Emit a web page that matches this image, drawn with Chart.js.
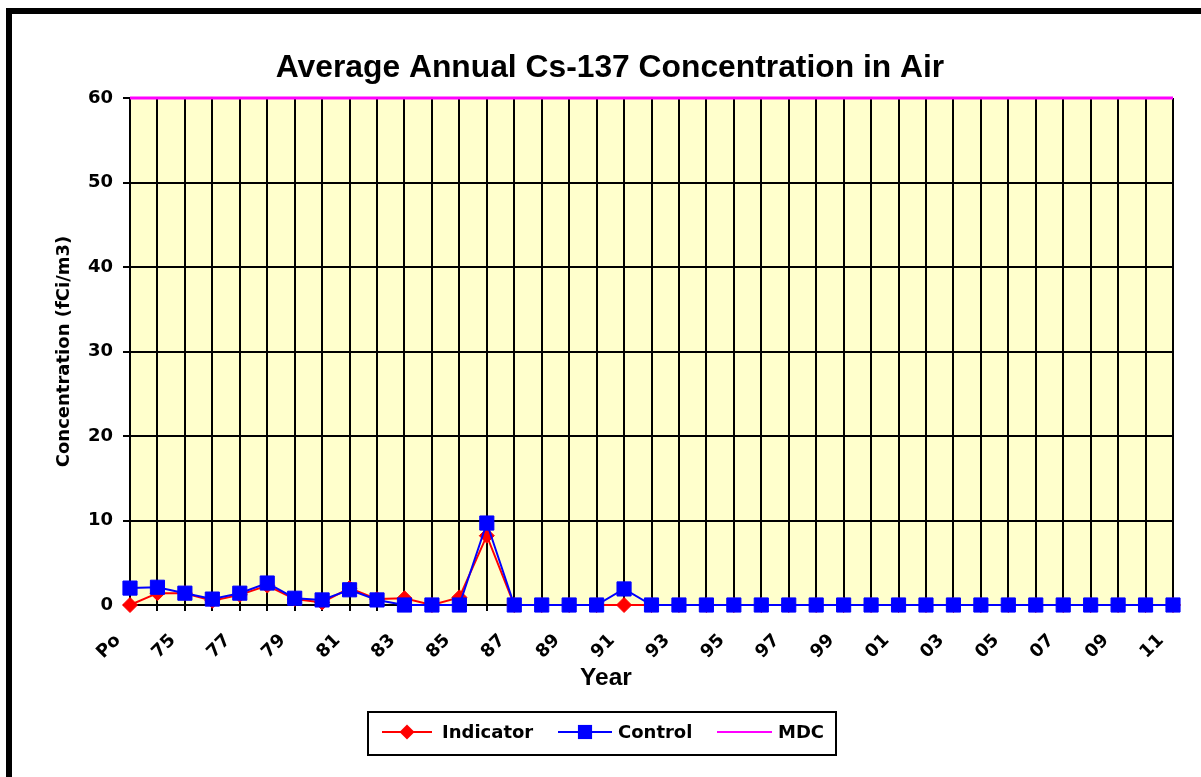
<!DOCTYPE html>
<html>
<head>
<meta charset="utf-8">
<script src="https://cdn.jsdelivr.net/npm/chart.js@4.4.1/dist/chart.umd.min.js"></script>
<style>
html,body{margin:0;padding:0;background:#ffffff;}
#wrap{width:1201px;height:777px;position:relative;overflow:hidden;}
canvas{display:block;}
</style>
</head>
<body>
<div id="wrap"><canvas id="c" width="1201" height="777"></canvas></div>
<script>
const chartTitle = 'Average Annual Cs-137 Concentration in Air';
const xAxisTitle = 'Year';
const yAxisTitle = 'Concentration (fCi/m3)';

const years = ['Po','74','75','76','77','78','79','80','81','82','83','84','85','86','87','88','89','90','91','92','93','94','95','96','97','98','99','00','01','02','03','04','05','06','07','08','09','10','11'];

const indicator = [0, 1.4, 1.4, 0.5, 1.2, 2.3, 0.7, 0.3, 2.0, 0.7, 0.8, 0, 0.9, 8.2, 0, 0, 0, 0, 0, 0, 0, 0, 0, 0, 0, 0, 0, 0, 0, 0, 0, 0, 0, 0, 0, 0, 0, 0, 0];

const control = [2.0, 2.1, 1.4, 0.7, 1.4, 2.6, 0.8, 0.6, 1.8, 0.6, 0, 0, 0, 9.7, 0, 0, 0, 0, 1.9, 0, 0, 0, 0, 0, 0, 0, 0, 0, 0, 0, 0, 0, 0, 0, 0, 0, 0, 0, 0];

const mdc = [60, 60, 60, 60, 60, 60, 60, 60, 60, 60, 60, 60, 60, 60, 60, 60, 60, 60, 60, 60, 60, 60, 60, 60, 60, 60, 60, 60, 60, 60, 60, 60, 60, 60, 60, 60, 60, 60, 60];

const yTicks = [0, 10, 20, 30, 40, 50, 60];

const TITLE_FONT = '"Liberation Sans", Arial, Helvetica, sans-serif';
const SMALL_FONT = '"DejaVu Sans", Verdana, sans-serif';

const bgPlugin = {
  id: 'plotBg',
  beforeDraw(chart) {
    const ctx = chart.ctx;
    const a = chart.chartArea;
    ctx.save();
    ctx.fillStyle = '#FFFFCC';
    ctx.fillRect(a.left, a.top, a.right - a.left, a.bottom - a.top);
    ctx.restore();
  }
};

const decorPlugin = {
  id: 'decor',
  afterDraw(chart) {
    const ctx = chart.ctx;
    const ds = chart.data.datasets;
    ctx.save();
    // outer frame (continues beyond the visible area)
    ctx.strokeStyle = '#000';
    ctx.lineWidth = 6;
    ctx.strokeRect(9, 11, 1400, 1000);

    // title
    ctx.fillStyle = '#000';
    ctx.font = 'bold 31.8px ' + TITLE_FONT;
    ctx.textAlign = 'center';
    ctx.textBaseline = 'alphabetic';
    ctx.fillText(chartTitle, 610, 77);

    // x axis title
    ctx.font = 'bold 24.5px ' + TITLE_FONT;
    ctx.fillText(xAxisTitle, 606, 685);

    // legend box
    ctx.lineWidth = 2;
    ctx.strokeStyle = '#000';
    ctx.strokeRect(368, 712, 468, 43);

    const ly = 732;
    const items = [
      {ds: ds[0], x0: 382, x1: 432, tx: 442},
      {ds: ds[1], x0: 558, x1: 612, tx: 618},
      {ds: ds[2], x0: 717, x1: 772, tx: 778}
    ];
    ctx.font = 'bold 18px ' + SMALL_FONT;
    ctx.textAlign = 'left';
    items.forEach(it => {
      const d = it.ds;
      ctx.strokeStyle = d.borderColor;
      ctx.lineWidth = 2;
      ctx.beginPath();
      ctx.moveTo(it.x0, ly);
      ctx.lineTo(it.x1, ly);
      ctx.stroke();
      const cx = (it.x0 + it.x1) / 2;
      ctx.fillStyle = d.pointBackgroundColor || d.borderColor;
      if (d.pointStyle === 'rectRot' && d.pointRadius > 0) {
        const r = d.pointRadius;
        ctx.beginPath();
        ctx.moveTo(cx - r, ly);
        ctx.lineTo(cx, ly - r);
        ctx.lineTo(cx + r, ly);
        ctx.lineTo(cx, ly + r);
        ctx.closePath();
        ctx.fill();
      } else if (d.pointStyle === 'rect' && d.pointRadius > 0) {
        const h = d.pointRadius * Math.SQRT1_2;
        ctx.fillRect(cx - h, ly - h, 2 * h, 2 * h);
      }
      ctx.fillStyle = '#000';
      ctx.fillText(d.label, it.tx, 738);
    });
    ctx.restore();
  }
};

new Chart(document.getElementById('c'), {
  type: 'line',
  data: {
    labels: years,
    datasets: [
      {
        label: 'Indicator',
        data: indicator,
        borderColor: '#FF0000',
        backgroundColor: '#FF0000',
        pointBackgroundColor: '#FF0000',
        pointBorderColor: '#FF0000',
        pointStyle: 'rectRot',
        pointRadius: 7.5,
        pointBorderWidth: 1,
        borderWidth: 2,
        tension: 0,
        clip: false,
        order: 1
      },
      {
        label: 'Control',
        data: control,
        borderColor: '#0000FF',
        backgroundColor: '#0000FF',
        pointBackgroundColor: '#0000FF',
        pointBorderColor: '#0000FF',
        pointStyle: 'rect',
        pointRadius: 10,
        pointBorderWidth: 1,
        borderWidth: 2,
        tension: 0,
        clip: false,
        order: 0
      },
      {
        label: 'MDC',
        data: mdc,
        borderColor: '#FF00FF',
        backgroundColor: '#FF00FF',
        pointRadius: 0,
        borderWidth: 3,
        tension: 0,
        clip: false,
        order: 2
      }
    ]
  },
  options: {
    responsive: false,
    animation: false,
    devicePixelRatio: 1,
    layout: { padding: { left: 0, right: 28, top: 98, bottom: 0 } },
    plugins: {
      legend: { display: false },
      tooltip: { enabled: false },
      title: { display: false }
    },
    scales: {
      x: {
        type: 'category',
        offset: false,
        grid: { color: '#000', lineWidth: 2, tickLength: 6, drawTicks: true },
        border: { color: '#000', width: 2 },
        ticks: {
          autoSkip: false,
          minRotation: 45,
          maxRotation: 45,
          labelOffset: -12,
          padding: 19,
          color: '#000',
          font: { family: SMALL_FONT, size: 18, weight: 'bold' },
          callback: (v, i) => (i % 2 === 0 ? years[i] : '')
        },
        afterFit: s => { s.height = 172; s.paddingLeft = 0; s.paddingRight = 0; }
      },
      y: {
        min: 0,
        max: 60,
        afterBuildTicks: s => { s.ticks = yTicks.map(v => ({ value: v })); },
        grid: { color: '#000', lineWidth: 2, tickLength: 7 },
        border: { color: '#000', width: 2 },
        ticks: {
          padding: 10,
          color: '#000',
          font: { family: SMALL_FONT, size: 18, weight: 'bold' }
        },
        title: {
          display: true,
          text: yAxisTitle,
          color: '#000',
          font: { family: SMALL_FONT, size: 18, weight: 'bold' },
          padding: { top: 54, bottom: 0 }
        },
        afterFit: s => { s.width = 130; s.paddingTop = 0; s.paddingBottom = 0; }
      }
    }
  },
  plugins: [bgPlugin, decorPlugin]
});
</script>
</body>
</html>
